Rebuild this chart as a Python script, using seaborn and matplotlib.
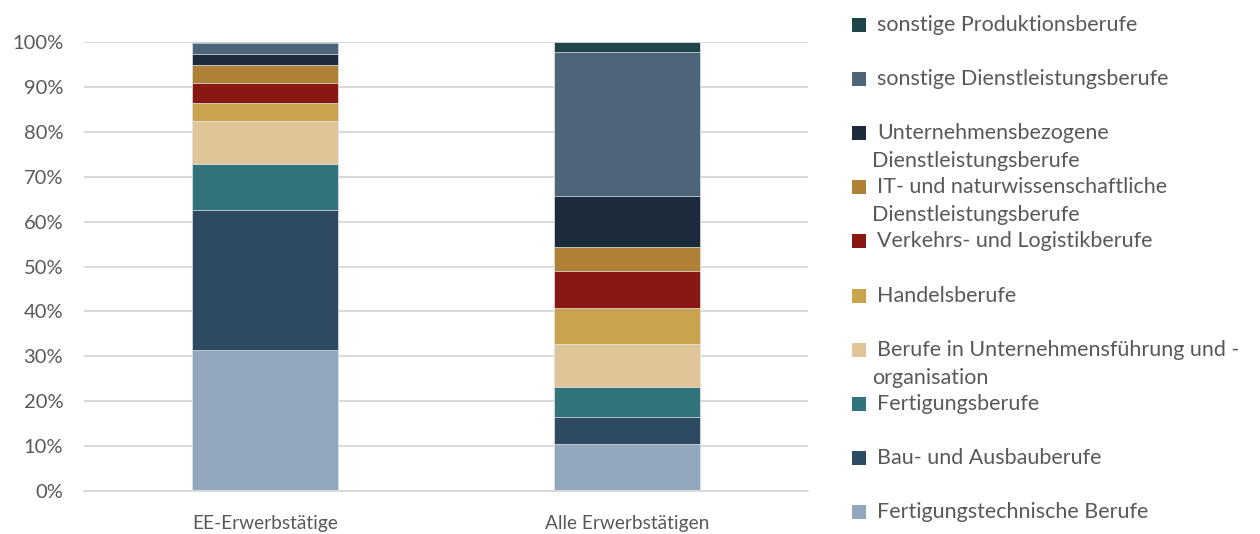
import numpy as np
import pandas as pd
import matplotlib
matplotlib.use('Agg')
import matplotlib.pyplot as plt
import seaborn as sns
from matplotlib.patches import Rectangle

# Daten (Anteile in %, von unten nach oben)
gruppen = ['EE-Erwerbstätige', 'Alle Erwerbstätigen']
berufe = [
    'Fertigungstechnische Berufe',
    'Bau- und Ausbauberufe',
    'Fertigungsberufe',
    'Berufe in Unternehmensführung und -\norganisation',
    'Handelsberufe',
    'Verkehrs- und Logistikberufe',
    'IT- und naturwissenschaftliche\nDienstleistungsberufe',
    'Unternehmensbezogene\nDienstleistungsberufe',
    'sonstige Dienstleistungsberufe',
    'sonstige Produktionsberufe',
]
ee_werte = [31.4, 31.1, 10.4, 9.4, 4.2, 4.3, 4.1, 2.4, 2.5, 0.2]
alle_werte = [10.5, 5.9, 6.7, 9.6, 8.1, 8.3, 5.2, 11.5, 32.0, 2.2]
farben = ['#93A7BC', '#2E4A63', '#32737C', '#E0C598', '#C9A34E',
          '#8A1812', '#AE8137', '#1C2B3C', '#4D6479', '#1F4548']

# DataFrame im Long-Format mit kumulierten Werten
df = pd.DataFrame({'Beruf': berufe, gruppen[0]: ee_werte, gruppen[1]: alle_werte})
df = df.melt(id_vars='Beruf', var_name='Gruppe', value_name='Anteil')
df['Anteil'] = df['Anteil'] / 100
df['Kumuliert'] = df.groupby('Gruppe')['Anteil'].cumsum()

sns.set_style('white')
plt.rcParams['font.family'] = ['Lato', 'DejaVu Sans']

fig = plt.figure(figsize=(12.6, 5.34), dpi=100)
ax = fig.add_axes([84 / 1260, (534 - 491) / 534, 724 / 1260, 449 / 534])

# gestapelte Balken: von oben nach unten überlagert zeichnen
for beruf, farbe in reversed(list(zip(berufe, farben))):
    teil = df[df['Beruf'] == beruf]
    sns.barplot(data=teil, x='Gruppe', y='Kumuliert', order=gruppen,
                color=farbe, width=0.403, saturation=1, ax=ax, zorder=3,
                edgecolor='#E8ECF0', linewidth=0.5)

ax.set_xlim(-0.5, 1.5)
ax.set_ylim(0, 1)
ax.set_yticks(np.arange(0, 1.01, 0.1))
ax.set_yticklabels([f'{int(round(v * 100))}%' for v in np.arange(0, 1.01, 0.1)])
ax.yaxis.grid(True, color='#D9D9D9', linewidth=1.4, zorder=0)
ax.set_axisbelow(True)
for s in ax.spines.values():
    s.set_visible(False)
ax.axhline(0, color='#D9D9D9', linewidth=1.4, zorder=4, clip_on=False)
ax.set_xlabel('')
ax.set_ylabel('')
ax.tick_params(axis='y', length=0, labelsize=14.5, colors='#595959', pad=15)
ax.tick_params(axis='x', length=0, labelsize=13.8, colors='#595959', pad=17)

# Legende (umgekehrte Reihenfolge, rechts)
y0 = 25
abstand = 54.1
for i, (beruf, farbe) in enumerate(reversed(list(zip(berufe, farben)))):
    yc = y0 + i * abstand
    fig.patches.append(Rectangle((852 / 1260, (534 - yc - 7) / 534), 14 / 1260, 14 / 534,
                                 transform=fig.transFigure, facecolor=farbe,
                                 edgecolor='none'))
    zeilen = beruf.split('\n')
    fig.text(877 / 1260, (534 - yc) / 534, zeilen[0], fontsize=15.5,
             color='#595959', va='center', ha='left')
    if len(zeilen) > 1:
        fig.text(872 / 1260, (534 - yc - 28) / 534, zeilen[1], fontsize=15.5,
                 color='#595959', va='center', ha='left')

fig.savefig('out.png', dpi=100)
